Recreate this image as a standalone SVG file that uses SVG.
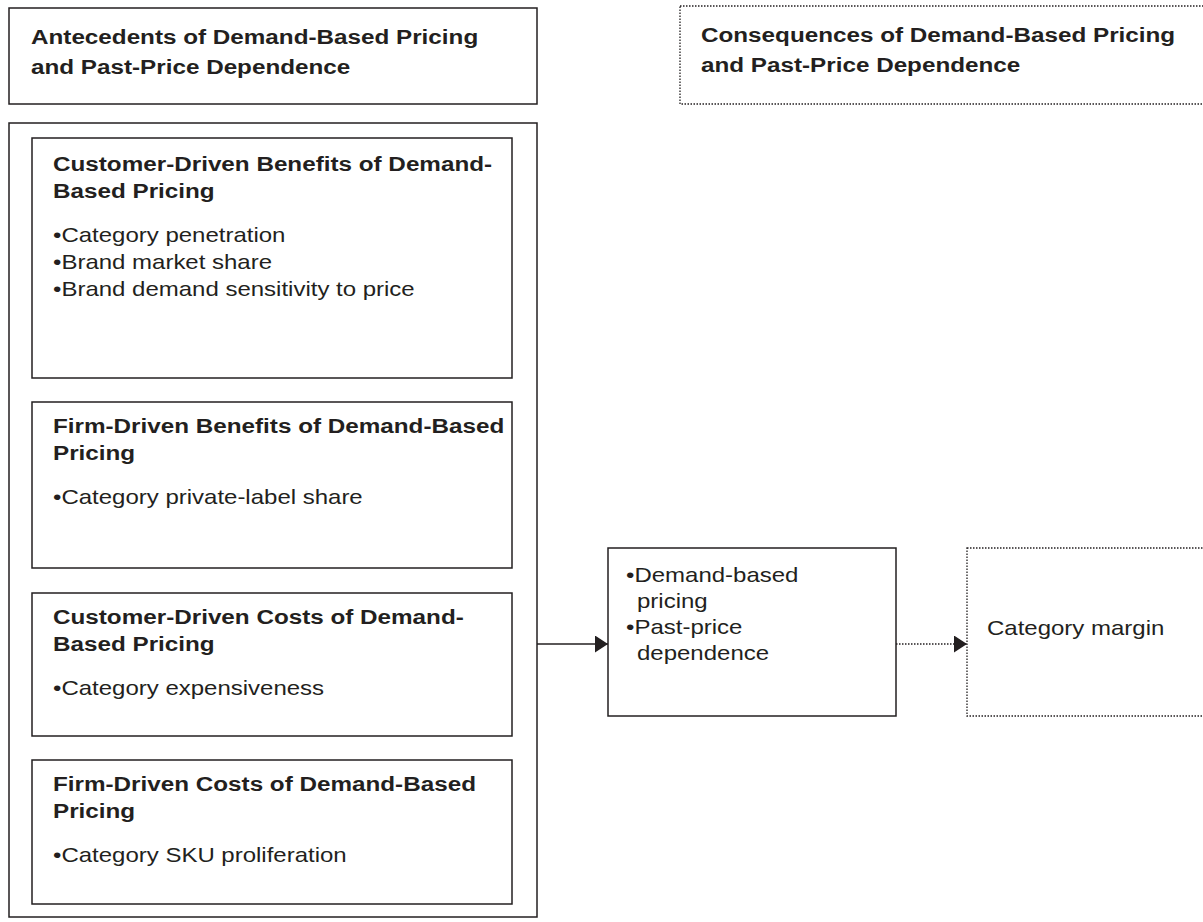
<svg xmlns="http://www.w3.org/2000/svg" width="1203" height="922" viewBox="0 0 1203 922">
<style>
.box{fill:none;stroke:#231f20;stroke-width:1.5}
.dot{fill:none;stroke:#231f20;stroke-width:1.3;stroke-dasharray:1.5 1.5}
.h{font-family:"Liberation Sans",Arial,sans-serif;font-weight:bold;font-size:21px;fill:#231f20}
.t{font-family:"Liberation Sans",Arial,sans-serif;font-size:20px;fill:#231f20}
</style>
<defs>
<marker id="ah" markerWidth="13" markerHeight="17" refX="13" refY="8.5" orient="auto" markerUnits="userSpaceOnUse">
<path d="M0,0 L13,8.5 L0,17 Z" fill="#231f20"/>
</marker>
</defs>
<rect width="1203" height="922" fill="#fff"/>
<g id="antecedents-header">
<rect class="box" x="9" y="8" width="528" height="96"/>
<text class="h" transform="translate(31 44) scale(1.155 1)">Antecedents of Demand-Based Pricing</text>
<text class="h" transform="translate(31 74) scale(1.155 1)">and Past-Price Dependence</text>
</g>
<g id="consequences-header">
<rect class="dot" x="680" y="6" width="530" height="98"/>
<text class="h" transform="translate(701 42) scale(1.155 1)">Consequences of Demand-Based Pricing</text>
<text class="h" transform="translate(701 72) scale(1.155 1)">and Past-Price Dependence</text>
</g>
<g id="antecedents">
<rect class="box" x="9" y="123" width="528" height="794"/>
</g>
<g id="customer-benefits">
<rect class="box" x="32" y="138" width="480" height="240"/>
<text class="h" transform="translate(53 171) scale(1.155 1)">Customer-Driven Benefits of Demand-</text>
<text class="h" transform="translate(53 198) scale(1.155 1)">Based Pricing</text>
<text class="t" transform="translate(53 242) scale(1.2 1)">•Category penetration</text>
<text class="t" transform="translate(53 269) scale(1.2 1)">•Brand market share</text>
<text class="t" transform="translate(53 296) scale(1.2 1)">•Brand demand sensitivity to price</text>
</g>
<g id="firm-benefits">
<rect class="box" x="32" y="402" width="480" height="166"/>
<text class="h" transform="translate(53 433) scale(1.155 1)">Firm-Driven Benefits of Demand-Based</text>
<text class="h" transform="translate(53 460) scale(1.155 1)">Pricing</text>
<text class="t" transform="translate(53 504) scale(1.2 1)">•Category private-label share</text>
</g>
<g id="customer-costs">
<rect class="box" x="32" y="593" width="480" height="143"/>
<text class="h" transform="translate(53 624) scale(1.155 1)">Customer-Driven Costs of Demand-</text>
<text class="h" transform="translate(53 651) scale(1.155 1)">Based Pricing</text>
<text class="t" transform="translate(53 695) scale(1.2 1)">•Category expensiveness</text>
</g>
<g id="firm-costs">
<rect class="box" x="32" y="760" width="480" height="144"/>
<text class="h" transform="translate(53 791) scale(1.155 1)">Firm-Driven Costs of Demand-Based</text>
<text class="h" transform="translate(53 818) scale(1.155 1)">Pricing</text>
<text class="t" transform="translate(53 862) scale(1.2 1)">•Category SKU proliferation</text>
</g>
<g id="pricing">
<rect class="box" x="608" y="548" width="288" height="168"/>
<text class="t" transform="translate(626 582) scale(1.2 1)">•Demand-based</text>
<text class="t" transform="translate(637 608) scale(1.2 1)">pricing</text>
<text class="t" transform="translate(626 634) scale(1.2 1)">•Past-price</text>
<text class="t" transform="translate(637 660) scale(1.2 1)">dependence</text>
</g>
<g id="category-margin">
<rect class="dot" x="967" y="548" width="245" height="168"/>
<text class="t" transform="translate(987 635) scale(1.2 1)">Category margin</text>
</g>
<g id="connectors">
<line x1="537" y1="644" x2="608" y2="644" stroke="#231f20" stroke-width="1.5" marker-end="url(#ah)"/>
<line x1="896" y1="644" x2="967" y2="644" stroke="#231f20" stroke-width="1.3" stroke-dasharray="1.5 1.5" marker-end="url(#ah)"/>
</g>
</svg>
